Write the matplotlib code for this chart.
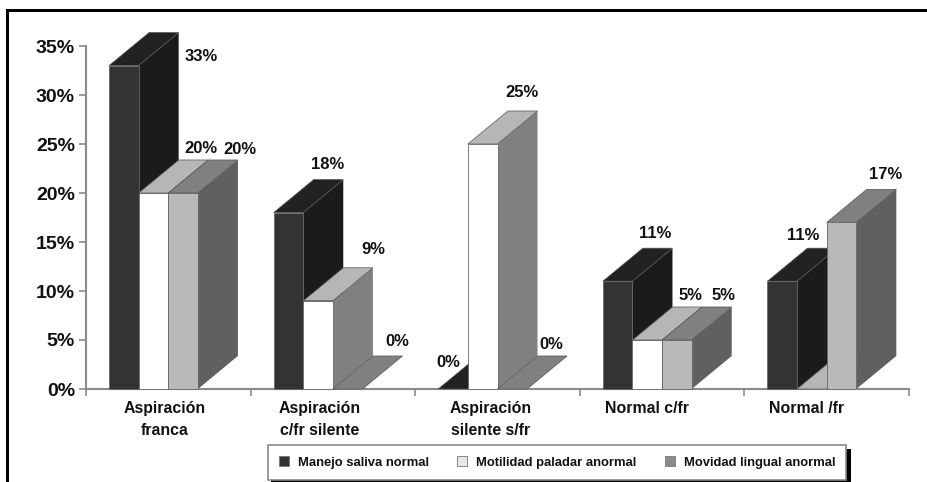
import matplotlib
matplotlib.use('Agg')
import matplotlib.pyplot as plt
from matplotlib.patches import Patch, Rectangle

plt.rcParams['font.family'] = ['Liberation Sans', 'DejaVu Sans']
plt.rcParams['font.weight'] = 'bold'

W, H = 927, 482

# Data
categories = ['Aspiración\nfranca', 'Aspiración\nc/fr silente', 'Aspiración\nsilente s/fr',
              'Normal c/fr', 'Normal /fr']
series_names = ['Manejo saliva normal', 'Motilidad paladar anormal', 'Movidad lingual anormal']
manejo = [33, 18, 0, 11, 11]
motilidad = [20, 9, 25, 5, 0]
movidad = [20, 0, 0, 5, 17]
yticks = [0, 5, 10, 15, 20, 25, 30, 35]

# front, top, side colours for each series
colors = [('#333333', '#222222', '#1b1b1b'),
          ('#ffffff', '#b6b6b6', '#808080'),
          ('#b9b9b9', '#808080', '#606060')]
legend_colors = ['#333333', '#e8e8e8', '#8c8c8c']

# bar layout in axis units
start = 0.14
bar_w = 0.18
depth_x = 0.243
depth_y = 3.37

# label offsets in pixels from the back right corner of each bar top
label_dx = [[23, -16, -60, -17, -34],
            [-7, 0, -15, -12, 0],
            [2, -5, -16, -8, -11]]
label_dy = [[-24, 15, -7, 15, 13],
            [11, 18, 18, 11, 0],
            [10, 14, 11, 11, 15]]

fig = plt.figure(figsize=(W / 100, H / 100), dpi=100)
ax = fig.add_axes([86 / W, 1 - 389 / H, (909 - 86) / W, (389 - 46) / H])
ax.set_xlim(0, 5)
ax.set_ylim(0, 35)
ax.patch.set_alpha(0)

# the black frame, open on the right and at the bottom
fig.add_artist(Rectangle((6 / W, 0), 3 / W, 1 - 9 / H, transform=fig.transFigure, color='black', lw=0))
fig.add_artist(Rectangle((6 / W, 1 - 12 / H), 1 - 6 / W, 3 / H, transform=fig.transFigure, color='black', lw=0))

all_series = [manejo, motilidad, movidad]
for i in range(len(categories)):
    for s, values in enumerate(all_series):
        v = values[i]
        x0 = i + start + s * bar_w
        x1 = x0 + bar_w
        front, top, side = colors[s]
        z = 3 + i * 3 + s
        ax.fill([x1, x1 + depth_x, x1 + depth_x, x1], [0, depth_y, v + depth_y, v],
                color=side, lw=0, clip_on=False, zorder=z)
        ax.fill([x0, x1, x1 + depth_x, x0 + depth_x], [v, v, v + depth_y, v + depth_y],
                color=top, ec='#555555', lw=0.5, clip_on=False, zorder=z)
        if v > 0:
            ax.fill([x0, x1, x1, x0], [0, 0, v, v], color=front, ec='#666666', lw=0.6,
                    clip_on=False, zorder=z)
        if s == 1 and v == 0:
            continue  # label of this bar is not shown in the chart
        ax.annotate(f'{v}%', (x1 + depth_x, v + depth_y), xytext=(label_dx[s][i], label_dy[s][i]),
                    textcoords='offset pixels', ha='center', va='center', fontsize=12,
                    color='#111111', zorder=40, annotation_clip=False)

# axes
for name in ['top', 'right']:
    ax.spines[name].set_visible(False)
for name in ['left', 'bottom']:
    ax.spines[name].set_color('#8a8a8a')
    ax.spines[name].set_linewidth(1.5)
ax.set_yticks(yticks)
ax.set_yticklabels([f'{t}%' for t in yticks], fontsize=14, color='#111111')
ax.set_xticks(range(6))
ax.set_xticklabels([])
ax.tick_params(axis='both', color='#8a8a8a', length=5, width=1.2, pad=3)

label_x = [0.48, 1.42, 2.46, 3.41, 4.38]
for x, name in zip(label_x, categories):
    ax.text(x, -1.25, name, ha='center', va='top', fontsize=11.4, color='#111111', linespacing=1.55)

# legend with a black shadow
fig.add_artist(Rectangle((271 / W, 1 - 482 / H), 580 / W, 33 / H, transform=fig.transFigure,
                         color='black', lw=0))
handles = [Patch(facecolor=c, edgecolor='#777777', lw=0.6) for c in legend_colors]
leg = fig.legend(handles, series_names, loc='center', bbox_to_anchor=(557 / W, 1 - 462.5 / H),
                 ncol=3, fontsize=9.4, frameon=True, fancybox=False, framealpha=1,
                 edgecolor='#8a8a8a', handlelength=0.75, handleheight=0.75, handletextpad=0.7,
                 columnspacing=2.18, borderpad=0.85, labelcolor='#111111')
leg.get_frame().set_linewidth(1.2)
leg.set_zorder(10)

fig.savefig('out.png', dpi=100)
